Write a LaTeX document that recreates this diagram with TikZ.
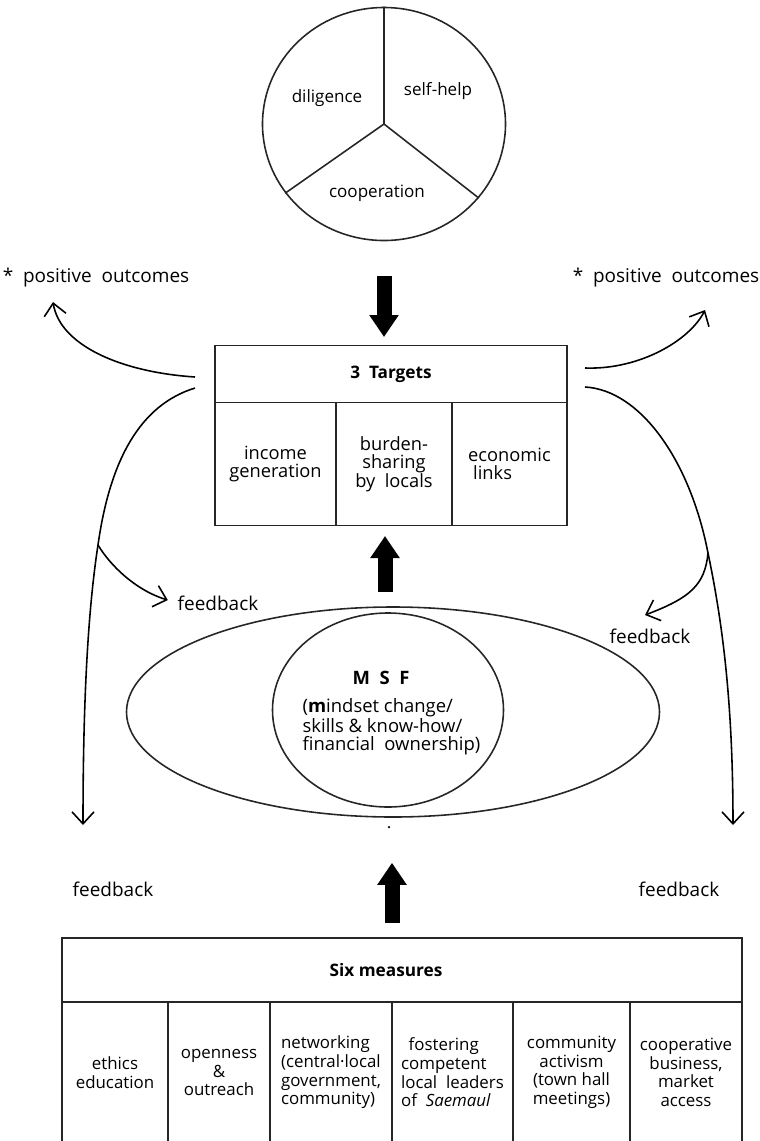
\documentclass[tikz,border=0pt]{standalone}
\usepackage{fontspec}
\setmainfont{Open Sans}
\usetikzlibrary{arrows.meta,shapes.geometric,positioning}
\tikzset{cell/.style={draw=black!85,line width=0.9pt,rectangle,inner sep=0pt,outer sep=0pt,align=center,font=\fontsize{9.6}{10.6}\selectfont}}
\tikzset{tcell/.style={cell,minimum height=24.6mm,font=\fontsize{10.4}{10.6}\selectfont}}
\tikzset{scell/.style={cell,minimum height=28.2mm}}
\tikzset{ring/.style={draw=black!85,line width=0.9pt,ellipse,inner sep=0pt}}
\tikzset{lbl/.style={inner sep=0pt,font=\fontsize{10.8}{12}\selectfont}}
\tikzset{piece/.style={inner sep=0pt,font=\fontsize{9.7}{11}\selectfont}}
\tikzset{bigarrow/.style={line width=3mm,-{Triangle[length=4.4mm,width=5.6mm]}}}
\tikzset{curvearrow/.style={line width=0.9pt,-{Straight Barb[length=2.4mm,width=4.4mm]}}}

\begin{document}
\begin{tikzpicture}[x=0.2mm,y=-0.2mm]
  \useasboundingbox (0,0) rectangle (760,1141);
  \node[ring,minimum width=48.6mm,minimum height=46.6mm] (core) at (384,124) {};
  \draw[black!85,line width=0.9pt] (core.center) -- (core.north)
    (core.center) -- (core.-145) (core.center) -- (core.-38);
  \node[piece] (dil) at (327,98) {diligence};
  \node[piece] (self) at (438,91) {self-help};
  \node[piece] (coop) at (377,193) {cooperation};

  \node[cell,minimum width=70.4mm,minimum height=11.4mm,font=\bfseries\fontsize{9.8}{11}\selectfont] (tgt) at (391,374) {3\ \ Targets};
  \node[tcell,minimum width=24.2mm,below right=0pt and 0pt of tgt.south west] (inc) {income\\generation};
  \node[tcell,minimum width=23.2mm,right=0pt of inc] (bur) {burden-\\sharing\\by\ \ locals};
  \node[tcell,minimum width=23mm,align=left,right=0pt of bur] (eco) {economic\\\hspace*{1mm}links};

  \node[ring,minimum width=106.6mm,minimum height=42mm] (outer) at (393,712) {};
  \node[ring,minimum width=46.2mm,minimum height=38.8mm] (msf) at (388,710) {};
  \node[inner sep=0pt,font=\bfseries\fontsize{10.5}{11}\selectfont] (msft) at (381,678) {M\ \ S\ \ F};
  \node[inner sep=0pt,align=left,font=\fontsize{10.5}{10.2}\selectfont] (msfb) at (391.5,727) {(\textbf{m}indset change/\\skills \& know-how/\\financial\ \ ownership)};
  \fill (389,827) circle (0.25mm);

  \node[cell,minimum width=136mm,minimum height=12.8mm] (six) at (402,970) {};
  \node[inner sep=0pt,font=\bfseries\fontsize{9.8}{11}\selectfont] (sixlbl) at (386,970) {Six measures};
  \node[scell,minimum width=21.2mm,below right=0pt and 0pt of six.south west] (eth) {ethics\\education};
  \node[scell,minimum width=20.4mm,right=0pt of eth] (opn) {openness\\\&\\outreach};
  \node[scell,minimum width=24.4mm,align=left,right=0pt of opn] (net) {networking\\(central·local\\government,\\community)};
  \node[scell,minimum width=24.2mm,align=left,right=0pt of net] (fos) {\hspace*{1.5mm}fostering\\competent\\local\ \ leaders\\of\ \ \textit{Saemaul}};
  \node[scell,minimum width=23.4mm,right=0pt of fos] (com) {community\\activism\\(town hall\\meetings)};
  \node[scell,minimum width=22.4mm,right=0pt of com] (coo) {cooperative\\business,\\market\\access};

  \node[lbl] (pos1) at (96,278) {*\ \ positive\ \ outcomes};
  \node[lbl] (pos2) at (666,278) {*\ \ positive\ \ outcomes};
  \node[lbl] (fb1) at (218,603) {feedback};
  \node[lbl] (fb2) at (650,636) {feedback};
  \node[lbl] (fb3) at (113,889) {feedback};
  \node[lbl] (fb4) at (679,889) {feedback};

  \draw[bigarrow,shorten <=6.9mm,shorten >=1.7mm] (core.south) -- (core.south |- tgt.north);
  \draw[bigarrow,shorten <=2.8mm,shorten >=2.1mm] ([xshift=-1.6mm]outer.north) -- ([xshift=-1.6mm]outer.north |- bur.south);
  \draw[bigarrow,shorten <=3mm,shorten >=9mm] ([xshift=-2mm]six.north) -- ([xshift=-2mm]six.north |- outer.south);

  \coordinate (lout) at (53,302);
  \coordinate (rout) at (705,310);
  \coordinate (lfb) at (83,825);
  \coordinate (rfb) at (733,825);
  \coordinate (rfbb) at (645,615);
  \draw[curvearrow] ([xshift=-4mm,yshift=-0.6mm]tgt.west) .. controls (120,372) and (60,345) .. (lout);
  \draw[curvearrow] ([xshift=-4mm,yshift=-2.8mm]tgt.west) .. controls (140,405) and (110,460) .. (98,545) coordinate (lsplit)
    .. controls (88,610) and (83,700) .. (lfb);
  \draw[curvearrow,shorten >=2mm] (lsplit) .. controls (110,565) and (135,590) .. (fb1.west);
  \draw[curvearrow] ([xshift=3.6mm,yshift=1.2mm]tgt.east) .. controls (640,370) and (690,340) .. (rout);
  \draw[curvearrow] ([xshift=3.6mm,yshift=-2.6mm]tgt.east) .. controls (640,390) and (690,460) .. (708,553) coordinate (rsplit)
    .. controls (722,620) and (733,700) .. (rfb);
  \draw[curvearrow] (rsplit) .. controls (705,585) and (690,598) .. (rfbb);
\end{tikzpicture}
\end{document}
